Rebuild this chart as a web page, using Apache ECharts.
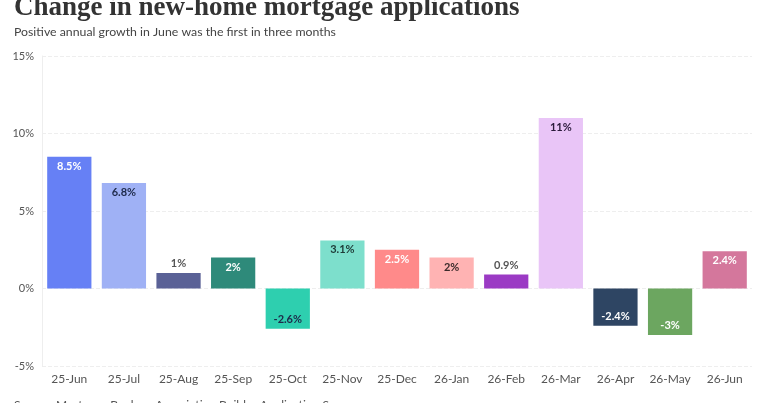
<!DOCTYPE html>
<html>
<head>
<meta charset="utf-8">
<script src="https://cdn.jsdelivr.net/npm/echarts@6/dist/echarts.min.js"></script>
<style>
  html, body { margin: 0; padding: 0; background: #fff; }
  #chart { width: 768px; height: 403px; }
</style>
</head>
<body>
<div id="chart"></div>
<script>
// data
const months = ["25-Jun", "25-Jul", "25-Aug", "25-Sep", "25-Oct", "25-Nov", "25-Dec",
  "26-Jan", "26-Feb", "26-Mar", "26-Apr", "26-May", "26-Jun"];
const growth = [8.5, 6.8, 1, 2, -2.6, 3.1, 2.5, 2, 0.9, 11, -2.4, -3, 2.4];
const barColors = ["#6680f5", "#9fb1f5", "#5a6196", "#2e8a7a", "#2ecfaf", "#7ddfcc", "#ff8a8a",
  "#ffb3b3", "#9b3ac4", "#e9c5f7", "#2e4563", "#6ca660", "#d4779c"];
const labelColors = ["#ffffff", "#1e2a4a", "#555555", "#ffffff", "#1e2a4a", "#1e3a36", "#ffffff",
  "#3a2a2a", "#555555", "#2a1a3a", "#ffffff", "#ffffff", "#ffffff"];
const outsideLabel = [false, false, true, false, false, false, false, false, true, false, false, false, false];

const chart = echarts.init(document.getElementById("chart"));

const data = growth.map((v, i) => ({
  value: v,
  itemStyle: { color: barColors[i] },
  label: {
    color: labelColors[i],
    position: outsideLabel[i] ? "top" : (v < 0 ? "insideBottom" : "insideTop")
  }
}));

chart.setOption({
  title: [
    {
      text: "Change in new-home mortgage applications",
      left: 9,
      top: -10,
      textStyle: { fontFamily: "Liberation Serif", fontWeight: "bold", fontSize: 27, color: "#333" }
    },
    {
      text: "Positive annual growth in June was the first in three months",
      left: 9,
      top: 21,
      textStyle: { fontFamily: "Lato", fontWeight: "normal", fontSize: 12.3, color: "#444" }
    },
    {
      text: "Source: Mortgage Bankers Association Builder Application Survey",
      left: 9,
      top: 394,
      textStyle: { fontFamily: "Lato", fontWeight: "normal", fontSize: 12, color: "#555" }
    }
  ],
  grid: { left: 42, right: 16, top: 56, bottom: 37 },
  xAxis: {
    type: "category",
    data: months,
    axisLine: { show: false },
    axisTick: { show: false },
    axisLabel: { color: "#555", fontFamily: "Lato", fontSize: 12, margin: 7 }
  },
  yAxis: {
    type: "value",
    min: -5,
    max: 15,
    interval: 5,
    axisLine: { show: true, lineStyle: { color: "#eeeeee" } },
    axisLabel: { formatter: "{value}%", color: "#555", fontFamily: "Lato", fontSize: 11 },
    splitLine: { lineStyle: { color: "#eeeeee", type: "dashed" } }
  },
  series: [{
    type: "bar",
    data: data,
    barCategoryGap: "19%",
    label: {
      show: true,
      formatter: "{c}%",
      fontFamily: "Lato",
      fontWeight: "bold",
      fontSize: 11,
      distance: 4
    }
  }]
});
</script>
</body>
</html>
